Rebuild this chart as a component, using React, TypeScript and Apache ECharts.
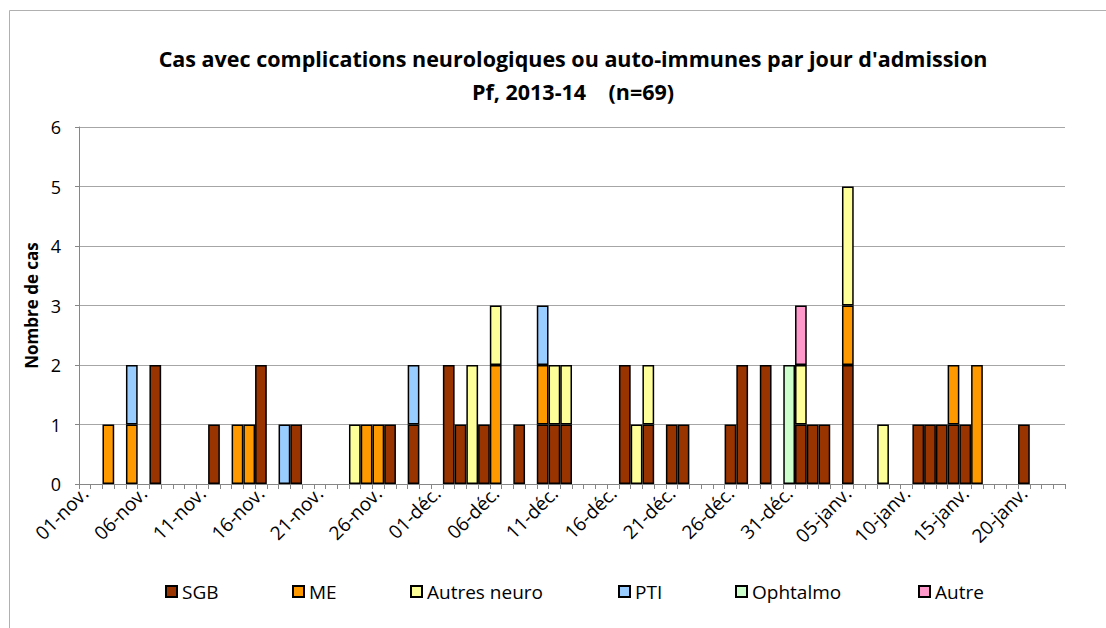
import React, { useEffect, useRef } from "react";
import * as echarts from "echarts";

// Category axis: one category per day, 01-nov. to 23-janv.
const MONTHS: [string, number][] = [
  ["nov.", 30],
  ["déc.", 31],
  ["janv.", 23],
];
const DAYS: string[] = [];
MONTHS.forEach(([m, n]) => {
  for (let d = 1; d <= n; d++) DAYS.push(String(d).padStart(2, "0") + "-" + m);
});

const Y_TICKS = [0, 1, 2, 3, 4, 5, 6];

// Counts per admission day
const SGB: [string, number][] = [
  ["07-nov.", 2], ["12-nov.", 1], ["16-nov.", 2], ["19-nov.", 1], ["27-nov.", 1],
  ["29-nov.", 1], ["02-déc.", 2], ["03-déc.", 1], ["05-déc.", 1], ["08-déc.", 1],
  ["10-déc.", 1], ["11-déc.", 1], ["12-déc.", 1], ["17-déc.", 2], ["19-déc.", 1],
  ["21-déc.", 1], ["22-déc.", 1], ["26-déc.", 1], ["27-déc.", 2], ["29-déc.", 2],
  ["01-janv.", 1], ["02-janv.", 1], ["03-janv.", 1], ["05-janv.", 2], ["11-janv.", 1],
  ["12-janv.", 1], ["13-janv.", 1], ["14-janv.", 1], ["15-janv.", 1], ["20-janv.", 1],
];
const ME: [string, number][] = [
  ["03-nov.", 1], ["05-nov.", 1], ["14-nov.", 1], ["15-nov.", 1], ["25-nov.", 1],
  ["26-nov.", 1], ["06-déc.", 2], ["10-déc.", 1], ["05-janv.", 1], ["14-janv.", 1],
  ["16-janv.", 2],
];
const AUTRES_NEURO: [string, number][] = [
  ["24-nov.", 1], ["04-déc.", 2], ["06-déc.", 1], ["11-déc.", 1], ["12-déc.", 1],
  ["18-déc.", 1], ["19-déc.", 1], ["01-janv.", 1], ["05-janv.", 2], ["08-janv.", 1],
];
const PTI: [string, number][] = [
  ["05-nov.", 1], ["18-nov.", 1], ["29-nov.", 1], ["10-déc.", 1],
];
const OPHTALMO: [string, number][] = [["31-déc.", 2]];
const AUTRE: [string, number][] = [["01-janv.", 1]];

const SERIES: { name: string; color: string; data: [string, number][]; legendX: number }[] = [
  { name: "SGB", color: "#993300", data: SGB, legendX: 165 },
  { name: "ME", color: "#FF9900", data: ME, legendX: 292 },
  { name: "Autres neuro", color: "#FFFF99", data: AUTRES_NEURO, legendX: 410 },
  { name: "PTI", color: "#99CCFF", data: PTI, legendX: 618 },
  { name: "Ophtalmo", color: "#CCFFCC", data: OPHTALMO, legendX: 735 },
  { name: "Autre", color: "#FF99CC", data: AUTRE, legendX: 918 },
];

const FONT = "'Open Sans', 'Noto Sans', sans-serif";

function toSeriesData(list: [string, number][]): (number | null)[] {
  const m = new Map(list);
  return DAYS.map((d) => (m.has(d) ? (m.get(d) as number) : null));
}

export default function App() {
  const ref = useRef<HTMLDivElement>(null);
  useEffect(() => {
    if (!ref.current) return;
    const chart = echarts.init(ref.current, undefined, { renderer: "svg" });
    chart.setOption({
      animation: false,
      backgroundColor: "#ffffff",
      textStyle: { fontFamily: FONT },
      title: [
        {
          text: "Cas avec complications neurologiques ou auto-immunes par jour d'admission",
          left: 573,
          top: 47,
          textAlign: "center",
          padding: 0,
          textStyle: { fontFamily: FONT, fontSize: 21.5, fontWeight: "bold", color: "#000" },
        },
        {
          text: "Pf, 2013-14    (n=69)",
          left: 573,
          top: 80,
          textAlign: "center",
          padding: 0,
          textStyle: { fontFamily: FONT, fontSize: 21.5, fontWeight: "bold", color: "#000" },
        },
      ],
      graphic: [
        {
          type: "rect",
          shape: { x: 9.5, y: 10.5, width: 1120, height: 660 },
          style: { fill: "none", stroke: "#b0b0b0", lineWidth: 1 },
          silent: true,
        },
      ],
      legend: SERIES.map((s) => ({
        data: [s.name],
        left: s.legendX,
        top: 582,
        padding: 0,
        icon: "rect",
        itemWidth: 11,
        itemHeight: 11,
        itemGap: 5,
        textStyle: { fontFamily: FONT, fontSize: 19, color: "#000", padding: [0, 0, 0, 0] },
        selectedMode: false,
      })),
      grid: { left: 79, right: 41, top: 127, bottom: 144, containLabel: false },
      xAxis: {
        type: "category",
        data: DAYS,
        boundaryGap: true,
        axisLine: { show: true, lineStyle: { color: "#868686", width: 1 } },
        axisTick: { show: true, interval: 0, length: 5, lineStyle: { color: "#868686" } },
        axisLabel: {
          interval: 4,
          rotate: 45,
          margin: 6,
          fontSize: 19,
          color: "#000",
          fontFamily: FONT,
        },
        splitLine: { show: false },
      },
      yAxis: {
        type: "value",
        min: Y_TICKS[0],
        max: Y_TICKS[Y_TICKS.length - 1],
        interval: 1,
        name: "Nombre de cas",
        nameLocation: "middle",
        nameGap: 38,
        nameRotate: 90,
        nameTextStyle: { fontFamily: FONT, fontSize: 17, fontWeight: "bold", color: "#000" },
        axisLine: { show: true, lineStyle: { color: "#868686" } },
        axisTick: { show: true, length: 4, lineStyle: { color: "#868686" } },
        axisLabel: { fontSize: 18, color: "#000", margin: 18, fontFamily: FONT },
        splitLine: { show: true, lineStyle: { color: "#a6a6a6", width: 1 } },
      },
      series: SERIES.map((s) => ({
        name: s.name,
        type: "bar",
        stack: "total",
        barWidth: "100%",
        barCategoryGap: "0%",
        data: toSeriesData(s.data),
        itemStyle: { color: s.color, borderColor: "#000", borderWidth: 1.5 },
      })),
    });
    return () => chart.dispose();
  }, []);
  return (
    <div
      ref={ref}
      style={{ position: "fixed", left: 0, top: 0, width: 1106, height: 628 }}
    />
  );
}
